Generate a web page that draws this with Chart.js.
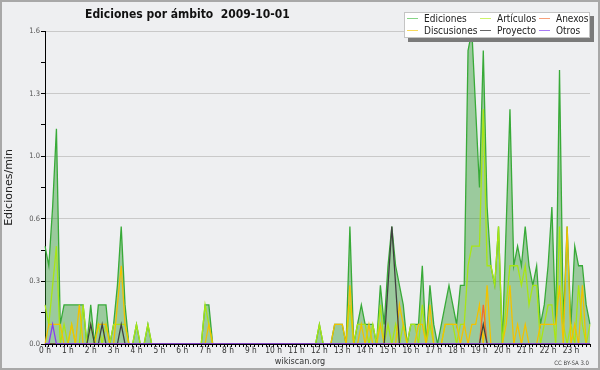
<!DOCTYPE html>
<html>
<head>
<meta charset="utf-8">
<title>Ediciones por ámbito 2009-10-01</title>
<script src="https://cdn.jsdelivr.net/npm/chart.js@4.4.1/dist/chart.umd.min.js"></script>
<style>
  html, body { margin: 0; padding: 0; background: #eeeff1; }
  #wrap { position: relative; width: 600px; height: 370px; overflow: hidden;
          font-family: 'DejaVu Sans Condensed', 'DejaVu Sans', sans-serif; color: #222; }
  #chart { position: absolute; left: 0; top: 0; }
  #frame { position: absolute; left: 0; top: 0; right: 0; bottom: 0; border: 2px solid #a8a8a8; pointer-events: none; }
  #title { position: absolute; left: 85px; top: 8px; font-size: 12px; line-height: 12px;
           font-weight: bold; white-space: pre; color: #111; }
  #legend { position: absolute; left: 404px; top: 12px; width: 186px; height: 26px; box-sizing: border-box;
            background: #fff; border: 1px solid #c4c4c4; box-shadow: 4px 4px 0 #7a7a7a;
            padding: 1px 0 0 2px; display: grid; grid-template-columns: 73px 59px 50px;
            font-size: 10px; line-height: 10px; }
  #legend .item { white-space: nowrap; }
  #legend .item i { display: inline-block; width: 11px; height: 1px; margin-right: 6px; vertical-align: 3px; }
  #site { position: absolute; left: 0; width: 600px; top: 357px; text-align: center;
          font-size: 9px; line-height: 9px; color: #333; }
  #licence { position: absolute; right: 11px; top: 360px; font-size: 6px; line-height: 6px; color: #444; }
</style>
</head>
<body>
<div id="wrap">
  <canvas id="chart" width="600" height="370"></canvas>
  <div id="title">Ediciones por ámbito  2009-10-01</div>
  <div id="legend"></div>
  <div id="site">wikiscan.org</div>
  <div id="licence">CC BY-SA 3.0</div>
  <div id="frame"></div>
</div>
<script>
(function () {
    "use strict";

    // Ejes
    var hours = ['0 h', '1 h', '2 h', '3 h', '4 h', '5 h', '6 h', '7 h', '8 h', '9 h', '10 h', '11 h',
                 '12 h', '13 h', '14 h', '15 h', '16 h', '17 h', '18 h', '19 h', '20 h', '21 h', '22 h', '23 h'];
    var slotMinutes = ['00', '10', '20', '30', '40', '50'];
    var yTickLabels = ['0.0', '0.3', '0.6', '1.0', '1.3', '1.6'];
    var yMax = 1.6;
    var yStep = 0.16;

    // Ediciones/min por tramo de 10 minutos (una línea = 4 horas)
    var ediciones = [
        0.5,0.4,0.7,1.1,0.1,0.2, 0.2,0.2,0.2,0.2,0.2,0, 0.2,0,0.2,0.2,0.2,0, 0.1,0.3,0.6,0.2,0,0,
        0.1,0,0,0.1,0,0, 0,0,0,0,0,0, 0,0,0,0,0,0, 0.2,0.2,0,0,0,0,
        0,0,0,0,0,0, 0,0,0,0,0,0, 0,0,0,0,0,0, 0,0,0,0,0,0,
        0.1,0,0,0,0.1,0.1, 0.1,0,0.6,0,0.1,0.2, 0.1,0.1,0.1,0,0.3,0.1, 0.4,0.6,0.4,0.3,0.2,0,
        0.1,0.1,0.1,0.4,0,0.3, 0.1,0,0.1,0.2,0.3,0.2, 0.1,0.3,0.3,1.5,1.6,1.2, 0.8,1.5,0.7,0.4,0.3,0.6,
        0,0.6,1.2,0.4,0.5,0.4, 0.6,0.4,0.3,0.4,0.1,0.2, 0.4,0.7,0.1,1.4,0.1,0.6, 0.1,0.5,0.4,0.4,0.2,0.1
    ];
    var articulos = [
        0.2,0.1,0.3,0.5,0,0.1, 0,0.1,0,0,0.2,0, 0.1,0,0.1,0,0.1,0, 0.1,0.1,0.1,0.1,0,0,
        0.1,0,0,0.1,0,0, 0,0,0,0,0,0, 0,0,0,0,0,0, 0.2,0.1,0,0,0,0,
        0,0,0,0,0,0, 0,0,0,0,0,0, 0,0,0,0,0,0, 0,0,0,0,0,0,
        0.1,0,0,0,0,0, 0,0,0.2,0,0.1,0.1, 0.1,0,0.1,0,0.2,0, 0.1,0,0.1,0,0.1,0,
        0.1,0.1,0,0.2,0,0.1, 0,0,0,0.1,0.1,0.1, 0,0.1,0.1,0.4,0.5,0.5, 0.5,1.2,0.4,0.4,0.3,0.6,
        0,0.2,0.4,0.4,0.4,0.3, 0.4,0.2,0.3,0.3,0,0.1, 0.2,0.2,0,0.6,0.1,0, 0.1,0,0.3,0.1,0,0.1
    ];
    var anexos = [
        0,0,0,0,0,0, 0,0,0,0,0,0, 0,0,0,0,0,0, 0,0,0,0,0,0,
        0,0,0,0,0,0, 0,0,0,0,0,0, 0,0,0,0,0,0, 0,0,0,0,0,0,
        0,0,0,0,0,0, 0,0,0,0,0,0, 0,0,0,0,0,0, 0,0,0,0,0,0,
        0,0,0,0,0,0, 0,0,0,0,0,0, 0,0,0,0,0,0, 0,0,0,0,0,0,
        0,0,0,0,0,0, 0,0,0,0,0,0, 0,0,0,0,0,0, 0,0.2,0,0,0,0,
        0,0,0,0,0,0, 0,0,0,0,0,0, 0,0,0,0,0,0, 0,0,0,0,0,0
    ];
    var discusiones = [
        0,0.1,0.1,0.1,0.1,0, 0,0.1,0,0.2,0,0, 0,0,0.1,0.1,0.1,0, 0,0.2,0.4,0.1,0,0,
        0,0,0,0,0,0, 0,0,0,0,0,0, 0,0,0,0,0,0, 0,0.1,0,0,0,0,
        0,0,0,0,0,0, 0,0,0,0,0,0, 0,0,0,0,0,0, 0,0,0,0,0,0,
        0,0,0,0,0.1,0.1, 0.1,0,0.3,0,0,0.1, 0,0.1,0,0,0.1,0, 0,0,0,0.2,0.1,0,
        0,0,0.1,0.1,0,0.2, 0,0,0,0.1,0.1,0.1, 0.1,0,0.1,0,0.1,0.1, 0.2,0,0.3,0,0,0,
        0,0.1,0.3,0,0.1,0, 0.1,0,0,0,0.1,0.1, 0.1,0.1,0.1,0.3,0,0.6, 0,0.1,0,0.3,0,0
    ];
    var proyecto = [
        0,0,0,0,0,0, 0,0,0,0,0,0, 0.1,0,0,0.1,0,0, 0,0,0.1,0,0,0,
        0,0,0,0,0,0, 0,0,0,0,0,0, 0,0,0,0,0,0, 0,0,0,0,0,0,
        0,0,0,0,0,0, 0,0,0,0,0,0, 0,0,0,0,0,0, 0,0,0,0,0,0,
        0,0,0,0,0,0, 0,0,0,0,0,0, 0,0,0,0,0,0, 0.3,0.6,0.3,0,0,0,
        0,0,0,0,0,0, 0,0,0,0,0,0, 0,0,0,0,0,0, 0,0.1,0,0,0,0,
        0,0,0,0,0,0, 0,0,0,0,0,0, 0,0,0,0,0,0, 0,0,0,0,0,0
    ];
    var otros = [
        0,0,0.1,0,0,0, 0,0,0,0,0,0, 0,0,0,0,0,0, 0,0,0,0,0,0,
        0,0,0,0,0,0, 0,0,0,0,0,0, 0,0,0,0,0,0, 0,0,0,0,0,0,
        0,0,0,0,0,0, 0,0,0,0,0,0, 0,0,0,0,0,0, 0,0,0,0,0,0,
        0,0,0,0,0,0, 0,0,0,0,0,0, 0,0,0,0,0,0, 0,0,0,0,0,0,
        0,0,0,0,0,0, 0,0,0,0,0,0, 0,0,0,0,0,0, 0,0,0,0,0,0,
        0,0,0,0,0,0, 0,0,0,0,0,0, 0,0,0,0,0,0, 0,0,0,0,0,0
    ];

    var seriesNames = ['Ediciones', 'Artículos', 'Anexos', 'Discusiones', 'Proyecto', 'Otros'];
    var seriesData = [ediciones, articulos, anexos, discusiones, proyecto, otros];
    var seriesColors = ['#38aa38', '#a8e614', '#f26a30', '#f2c200', '#404040', '#8a3cf0'];
    var legendColors = ['#86d486', '#cdf36b', '#f7a07a', '#f8d95a', '#666666', '#a87af5'];
    // lo que se dibuja encima tiene un order menor
    var drawOrder = [5, 4, 2, 3, 1, 0];

    var slots = [];
    hours.forEach(function (h) {
        slotMinutes.forEach(function (m) {
            slots.push(h.replace(' h', '') + ':' + m);
        });
    });

    var fontFamily = "'DejaVu Sans Condensed', 'DejaVu Sans', sans-serif";

    var datasets = seriesNames.map(function (name, i) {
        var ds = {
            label: name,
            data: seriesData[i],
            borderColor: seriesColors[i],
            borderWidth: 1.3,
            pointRadius: 0,
            tension: 0,
            fill: false,
            order: drawOrder[i]
        };
        if (i === 0) {
            ds.fill = 'origin';
            ds.backgroundColor = 'rgba(40, 150, 40, 0.42)';
        }
        return ds;
    });

    new Chart(document.getElementById('chart'), {
        type: 'line',
        data: { labels: slots, datasets: datasets },
        options: {
            responsive: false,
            devicePixelRatio: 1,
            animation: false,
            layout: { padding: { left: 0, right: 10, top: 31, bottom: 0 } },
            plugins: {
                legend: { display: false },
                tooltip: { enabled: false },
                title: { display: false }
            },
            scales: {
                x: {
                    type: 'category',
                    offset: false,
                    grid: { display: true, drawOnChartArea: false, drawTicks: true, tickLength: 3, tickColor: '#000' },
                    border: { display: true, color: '#000', width: 1 },
                    ticks: {
                        autoSkip: false, maxRotation: 0, minRotation: 0, padding: -1,
                        color: '#333', font: { family: fontFamily, size: 8.3 },
                        callback: function (value, index) {
                            return index % slotMinutes.length === 0 ? hours[index / slotMinutes.length] : '';
                        }
                    },
                    afterFit: function (scale) { scale.height = 26; }
                },
                y: {
                    min: 0,
                    max: yMax,
                    grid: {
                        drawTicks: true, tickLength: 4, tickColor: '#000',
                        color: function (ctx) { return ctx.index % 2 === 0 ? '#c9c9c9' : 'rgba(0,0,0,0)'; }
                    },
                    border: { display: true, color: '#000', width: 1 },
                    ticks: {
                        stepSize: yStep, padding: 1, color: '#555',
                        font: { family: fontFamily, size: 7.5 },
                        callback: function (value, index) {
                            return index % 2 === 0 ? yTickLabels[index / 2] : '';
                        }
                    },
                    title: {
                        display: true, text: 'Ediciones/min', color: '#222',
                        font: { family: "'DejaVu Sans', sans-serif", size: 11 },
                        padding: { top: 3, bottom: 0 }
                    },
                    afterFit: function (scale) { scale.width = 45; }
                }
            }
        }
    });

    // Leyenda en 3 columnas, como el original
    var legend = document.getElementById('legend');
    seriesNames.forEach(function (name, i) {
        var item = document.createElement('div');
        item.className = 'item';
        var mark = document.createElement('i');
        mark.style.background = legendColors[i];
        item.appendChild(mark);
        item.appendChild(document.createTextNode(name));
        legend.appendChild(item);
    });
})();
</script>
</body>
</html>
